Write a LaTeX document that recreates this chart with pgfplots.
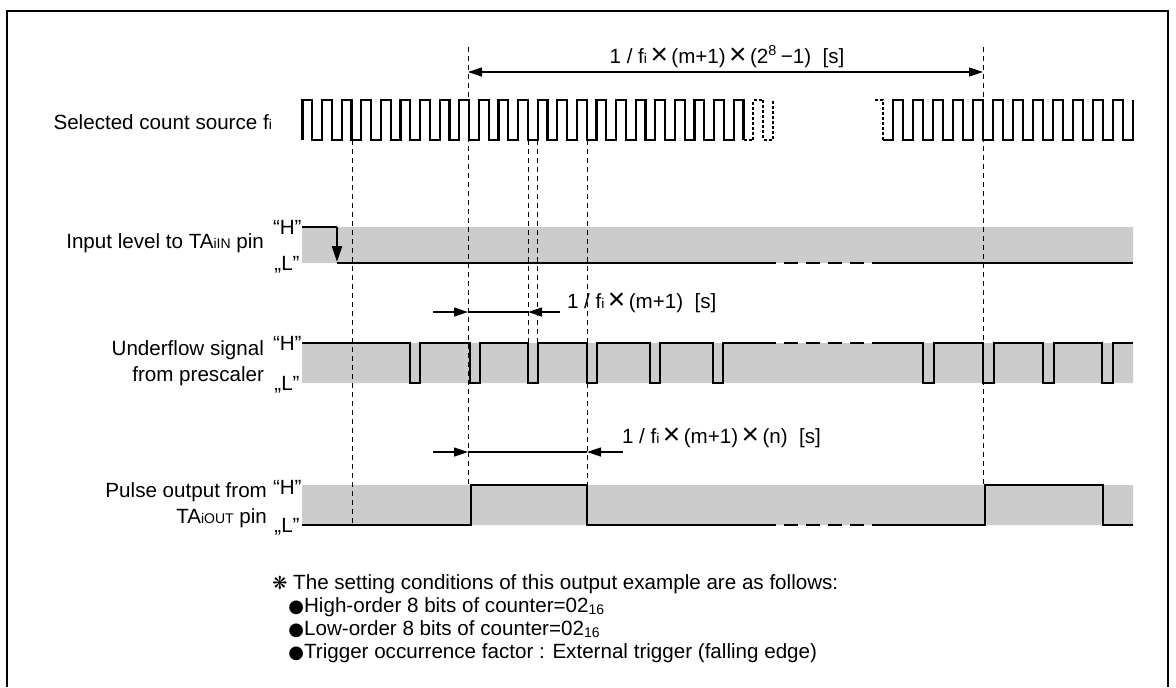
\documentclass[border=0pt]{standalone}
\usepackage{fontspec}
\setmainfont{Liberation Sans}
\newfontfamily\symfont{DejaVu Sans}
\usepackage{graphicx}
\usepackage{pgfplots}
\pgfplotsset{compat=1.18}
\usetikzlibrary{arrows.meta}

\newcommand{\sub}[1]{{\fontsize{7}{8}\selectfont #1}}
\newcommand{\tm}{\,\raisebox{-.1ex}{\scalebox{1.45}{×}}\,}

\begin{document}
\begin{tikzpicture}[font=\fontsize{10.3}{12}\selectfont]
\begin{axis}[at={(0,0)}, anchor=south west, scale only axis,
  width=588pt, height=343.5pt,
  xmin=0, xmax=1176, ymin=0, ymax=687, y dir=reverse,
  hide axis, clip=false,
  sig/.style={black, line width=1.35pt, no markers},
  guide/.style={black, line width=0.5pt, dash pattern=on 2.5pt off 2pt, no markers},
  dim/.style={black, line width=0.6pt, no markers},
  band/.style={draw=none, fill=black!20, no markers},
]
% frame
\addplot[black, line width=1pt, no markers] coordinates {(7,687) (7,11) (1168,11) (1168,687)};

% shaded level bands
\addplot[band] coordinates {(302,227) (1133,227) (1133,263) (302,263) (302,227)};
\addplot[band] coordinates {(302,343) (1133,343) (1133,383) (302,383) (302,343)};
\addplot[band] coordinates {(302,485) (1133,485) (1133,525) (302,525) (302,485)};

% guide lines
\addplot[guide] coordinates {(352,140) (352,525)};
\addplot[guide] coordinates {(468,47) (468,485)};
\addplot[guide] coordinates {(528,140) (528,343)};
\addplot[guide] coordinates {(537,140) (537,343)};
\addplot[guide] coordinates {(587,140) (587,485)};
\addplot[guide] coordinates {(983,47) (983,485)};

% count source fi
\addplot[sig, line width=1.1pt, const plot] coordinates {
(302.5,140)(302.5,100)(312.3,140)(322.1,100)(331.9,140)(341.7,100)(351.5,140)
(361.3,100)(371.1,140)(380.9,100)(390.7,140)(400.5,100)(410.3,140)(420.1,100)
(429.9,140)(439.7,100)(449.5,140)(459.3,100)(469.1,140)(478.9,100)(488.7,140)
(498.5,100)(508.3,140)(518.1,100)(527.9,140)(537.7,100)(547.5,140)(557.3,100)
(567.1,140)(576.9,100)(586.7,140)(596.5,100)(606.3,140)(616.1,100)(625.9,140)
(635.7,100)(645.5,140)(655.3,100)(665.1,140)(674.9,100)(684.7,140)(694.5,100)
(704.3,140)(714.1,100)(723.9,140)(733.7,100)(743.5,140)};
\addplot[sig, line width=1.1pt, dash pattern=on 1.5pt off 1pt, const plot] coordinates {
(743.5,140)(753.3,100)(763.1,140)(772.9,100)};
\addplot[sig, line width=1.1pt, dash pattern=on 1.5pt off 1pt] coordinates {(875,100)(883,100)(883,140)};
\addplot[sig, line width=1.1pt, const plot] coordinates {
(883,140)(893,100)(903,140)(913,100)(923,140)(933,100)(943,140)(953,100)
(963,140)(973,100)(983,140)(993,100)(1003,140)(1013,100)(1023,140)(1033,100)
(1043,140)(1053,100)(1063,140)(1073,100)(1083,140)(1093,100)(1103,140)
(1113,100)(1123,140)(1133,100)};

% input level to TAiIN
\addplot[sig] coordinates {(302,227) (337,227)};
\addplot[sig, -{Triangle[length=8pt,width=5pt]}] coordinates {(337,227) (337,262)};
\addplot[sig] coordinates {(337,263) (762,263)};
\addplot[sig, dash pattern=on 7pt off 4pt] coordinates {(762,263) (882,263)};
\addplot[sig] coordinates {(882,263) (1133,263)};

% underflow signal
\addplot[sig, const plot] coordinates {
(302,343)(410,383)(420,343)(470,383)(480,343)(528,383)(538,343)(587,383)
(597,343)(650,383)(660,343)(713,383)(723,343)(762,343)};
\addplot[sig, dash pattern=on 7pt off 4pt] coordinates {(762,343) (880,343)};
\addplot[sig, const plot] coordinates {
(880,343)(923,383)(934,343)(983,383)(994,343)(1043,383)(1054,343)(1102,383)(1113,343)(1133,343)};

% pulse output
\addplot[sig, const plot] coordinates {(302,525)(471,485)(587,525)(762,525)};
\addplot[sig, dash pattern=on 7pt off 4pt] coordinates {(762,525) (872,525)};
\addplot[sig, const plot] coordinates {(872,525)(985,485)(1103,525)(1133,525)};

% dimension arrows
\addplot[dim, {Triangle[length=7pt,width=4.5pt]}-{Triangle[length=7pt,width=4.5pt]}] coordinates {(468,72) (983,72)};
\addplot[dim, -{Triangle[length=7pt,width=4.5pt]}] coordinates {(433,312) (468,312)};
\addplot[dim] coordinates {(468,312) (528,312)};
\addplot[dim, -{Triangle[length=7pt,width=4.5pt]}] coordinates {(560,312) (528,312)};
\addplot[dim, -{Triangle[length=7pt,width=4.5pt]}] coordinates {(433,452) (468,452)};
\addplot[dim] coordinates {(468,452) (587,452)};
\addplot[dim, -{Triangle[length=7pt,width=4.5pt]}] coordinates {(623,452) (587,452)};

\node[anchor=base] at (axis cs:727,63) {1 / f\sub{i}\tm(m+1)\tm(2\textsuperscript{8}\,−1)\ \ [s]};
\node[anchor=base west] at (axis cs:560,308) {1 / f\sub{i}\tm(m+1)\ \ [s]};
\node[anchor=base west] at (axis cs:615,443) {1 / f\sub{i}\tm(m+1)\tm(n)\ \ [s]};

% signal names
\node[anchor=base east] at (axis cs:279,129) {Selected count source f\sub{i}};
\node[anchor=base east] at (axis cs:271,248) {Input level to TA\sub{iIN} pin};
\node[anchor=base east] at (axis cs:271,355) {Underflow signal};
\node[anchor=base east] at (axis cs:271,381) {from prescaler};
\node[anchor=base east] at (axis cs:274,497) {Pulse output from};
\node[anchor=base east] at (axis cs:274,523) {TA\sub{iOUT} pin};

\node[anchor=base east, inner sep=0pt] at (axis cs:302,234) {“H”};
\node[anchor=base east, inner sep=0pt] at (axis cs:300,270) {„L”};
\node[anchor=base east, inner sep=0pt] at (axis cs:302,350) {“H”};
\node[anchor=base east, inner sep=0pt] at (axis cs:300,390) {„L”};
\node[anchor=base east, inner sep=0pt] at (axis cs:302,494) {“H”};
\node[anchor=base east, inner sep=0pt] at (axis cs:300,532) {„L”};

% notes
\node[anchor=base west, inner sep=0pt] at (axis cs:272,589) {{\symfont\fontsize{9}{10}\selectfont ❋} The setting conditions of this output example are as follows:};
\node[anchor=base west, inner sep=0pt] at (axis cs:288,612) {{\symfont\fontsize{9}{10}\selectfont ●}High-order 8 bits of counter=02\raisebox{-.2ex}{\sub{16}}};
\node[anchor=base west, inner sep=0pt] at (axis cs:288,635) {{\symfont\fontsize{9}{10}\selectfont ●}Low-order 8 bits of counter=02\raisebox{-.2ex}{\sub{16}}};
\node[anchor=base west, inner sep=0pt] at (axis cs:288,658) {{\symfont\fontsize{9}{10}\selectfont ●}Trigger occurrence factor : External trigger (falling edge)};
\end{axis}
\pgfresetboundingbox
\path (0,0) rectangle (588pt,343.5pt);
\end{tikzpicture}
\end{document}
